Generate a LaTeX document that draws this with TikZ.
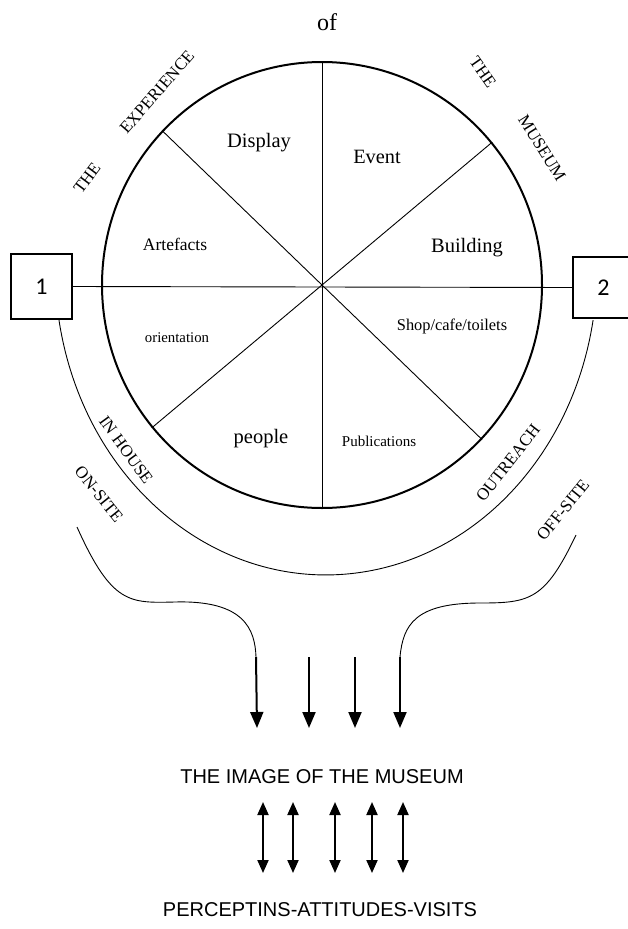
\documentclass[tikz,border=0pt]{standalone}
\usepackage{fontspec}
\setmainfont{Liberation Serif}
\setsansfont{Liberation Sans}
\newfontfamily\digitfont{Carlito}
\usetikzlibrary{arrows.meta, positioning, shapes.geometric}

\begin{document}
\begin{tikzpicture}[
        x=1pt, y=-1pt,
        wheelline/.style={line width=2pt},
        spoke/.style={line width=0.9pt},
        numbox/.style={rectangle, draw, line width=2.3pt, minimum width=61pt, minimum height=#1, inner sep=0pt, font=\digitfont\fontsize{24}{28}\selectfont},
        sector/.style={font=\fontsize{#1}{#1}\selectfont, inner sep=0pt},
        rim/.style={font=\fontsize{17}{17}\selectfont, inner sep=0pt},
        flow/.style={line width=0.9pt},
        downarrow/.style={-{Triangle[length=16pt, width=13pt]}, line width=2pt},
        twoway/.style={{Triangle[length=13pt, width=11pt]}-{Triangle[length=13pt, width=11pt]}, line width=2pt},
        caption/.style={font=\sffamily\fontsize{20}{20}\selectfont, inner sep=0pt}
    ]
        \useasboundingbox (0,0) rectangle (628,929);

        % Wheel
        \node[ellipse, draw, wheelline, minimum width=440pt, minimum height=446pt, inner sep=0pt] (wheel) at (322,285) {};
        \node[numbox=65pt] (box1) at (41.5,286.5) {1};
        \node[numbox=61pt] (box2) at (603.5,287.5) {2};

        % Spokes
        \draw[spoke] (box1.east) -- (box2.west);
        \draw[spoke] (wheel.north) -- (wheel.south);
        \draw[spoke] (wheel.136) -- (wheel.-44);
        \draw[spoke] (wheel.40) -- (wheel.220);

        % Sectors
        \node[sector=24] (of) at (327,22) {of};
        \node[sector=20.5] (display) at (259,143) {Display};
        \node[sector=20.3] (event) at (377,157) {Event};
        \node[sector=20.5] (building) at (467,248) {Building};
        \node[sector=17.5] (artefacts) at (175,244) {Artefacts};
        \node[sector=14.8] (orient) at (177,338) {orientation};
        \node[sector=20.5] (people) at (261,439) {people};
        \node[sector=16.4] (shop) at (452,326) {Shop/cafe/toilets};
        \node[sector=15] (publ) at (379,441) {Publications};

        % Rim labels
        \node[rim, rotate=53] (the1) at (87,178) {THE};
        \node[rim, rotate=49] (exper) at (157,92) {EXPERIENCE};
        \node[rim, rotate=-55] (the2) at (483,72) {THE};
        \node[rim, rotate=-58] (museum) at (542,148) {MUSEUM};
        \node[rim, rotate=-54] (inhouse) at (126,450) {IN HOUSE};
        \node[rim, rotate=-51] (onsite) at (99,494) {ON-SITE};
        \node[rim, rotate=52] (outreach) at (508,463) {OUTREACH};
        \node[rim, rotate=51] (offsite) at (563,510) {OFF-SITE};

        % Outer arc
        \draw[flow] ([xshift=17.5pt]box1.south) arc[start angle=170.2, end angle=9.8, x radius=271, y radius=307];

        % Funnel
        \coordinate (topL) at (77,527);
        \coordinate (topR) at (576,535);
        \coordinate (inL) at (256,657);
        \coordinate (in2) at (309,657);
        \coordinate (in3) at (355,657);
        \coordinate (inR) at (400,657);
        \draw[flow] (topL) .. controls (112,605) and (130,603) .. (175,602) .. controls (245,600) and (255,630) .. (inL);
        \draw[flow] (topR) .. controls (545,600) and (530,603) .. (480,603) .. controls (415,603) and (403,625) .. (inR);

        % Arrows
        \draw[downarrow] (inL) -- ++(1,71);
        \draw[downarrow] (in2) -- ++(0,71);
        \draw[downarrow] (in3) -- ++(0,71);
        \draw[downarrow] (inR) -- ++(0,71);

        \node[caption] (image) at (322,777) {THE IMAGE OF THE MUSEUM};
        \foreach \x in {263,293,335,372,403}
            \draw[twoway] (\x,802) -- (\x,873);
        \node[caption] (percep) at (320,910) {PERCEPTINS-ATTITUDES-VISITS};
    \end{tikzpicture}
\end{document}
